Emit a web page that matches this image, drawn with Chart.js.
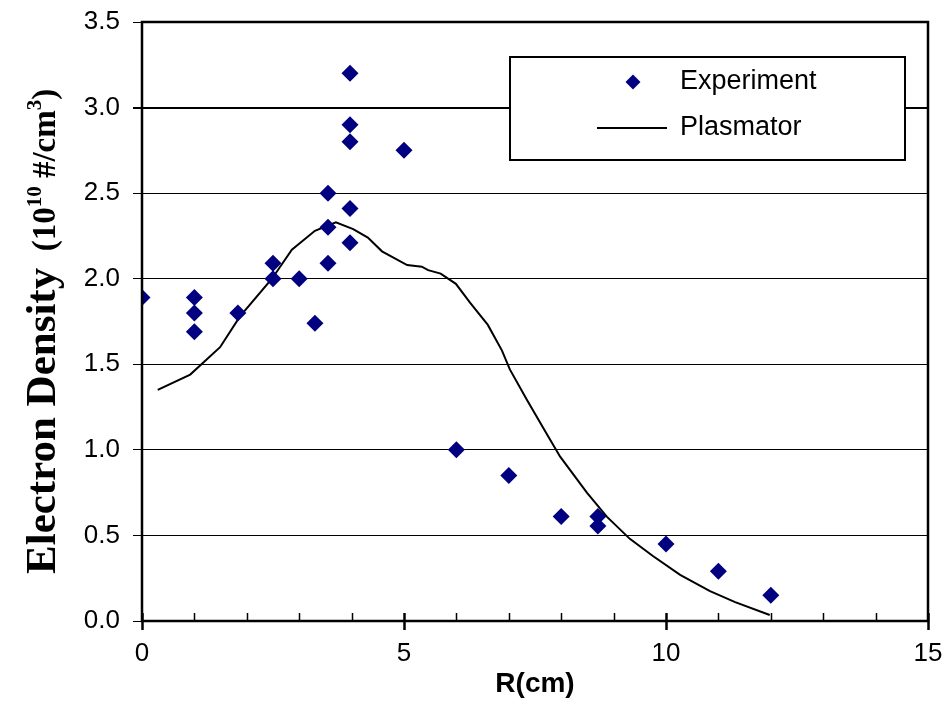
<!DOCTYPE html>
<html>
<head>
<meta charset="utf-8">
<script src="https://cdn.jsdelivr.net/npm/chart.js@4/dist/chart.umd.min.js"></script>
<style>
  html, body { margin: 0; padding: 0; background: #fff; }
  #wrap { width: 945px; height: 705px; }
</style>
</head>
<body>
<div id="wrap"><canvas id="densityChart"></canvas></div>
<script>
// Experiment points
const expR = [0, 1, 1, 1, 1.83, 2.5, 2.5, 3, 3.3, 3.55, 3.55, 3.55, 3.97, 3.97, 3.97, 3.97, 3.97, 5, 6, 7, 8, 8.7, 8.7, 10, 11, 12];
const expDensity = [1.89, 1.89, 1.8, 1.69, 1.8, 2.09, 2.0, 2.0, 1.74, 2.5, 2.3, 2.09, 3.2, 2.9, 2.8, 2.41, 2.21, 2.75, 1.0, 0.85, 0.61, 0.61, 0.555, 0.45, 0.29, 0.15];

// Plasmator curve
const simR = [0.3, 0.92, 1.49, 1.87, 2.48, 2.86, 3.3, 3.7, 4.03, 4.31, 4.58, 5.06, 5.34, 5.46, 5.7, 5.99, 6.26, 6.6, 6.87, 7.02, 7.35, 7.75, 7.98, 8.49, 8.87, 9.31, 9.75, 10.27, 10.84, 11.32, 11.98];
const simDensity = [1.35, 1.44, 1.6, 1.78, 2.0, 2.17, 2.28, 2.33, 2.29, 2.24, 2.16, 2.08, 2.07, 2.05, 2.03, 1.97, 1.86, 1.73, 1.58, 1.47, 1.29, 1.08, 0.96, 0.75, 0.61, 0.48, 0.38, 0.27, 0.175, 0.11, 0.035];

const xTickValues = [0, 5, 10, 15];
const xMinorTicks = [0, 1, 2, 3, 4, 5, 6, 7, 8, 9, 10, 11, 12, 13, 14, 15];
const yTickValues = [0, 0.5, 1, 1.5, 2, 2.5, 3, 3.5];

const seriesNames = ['Experiment', 'Plasmator'];
const navy = '#000080';

function toPoints(xs, ys) {
  return xs.map((v, i) => ({ x: v, y: ys[i] }));
}

const serif = '"Liberation Serif", "Times New Roman", serif';

// frame, x ticks, axis titles and the boxed legend
const decor = {
  id: 'decor',
  afterDatasetsDraw(chart) {
    const { ctx, chartArea: a, scales: { x } } = chart;
    ctx.save();
    ctx.strokeStyle = '#000';

    xMinorTicks.forEach(v => {
      const px = Math.round(x.getPixelForValue(v)) + 0.5;
      const major = xTickValues.includes(v);
      ctx.lineWidth = major ? 2.5 : 1.5;
      ctx.beginPath();
      ctx.moveTo(px, a.bottom - 8);
      ctx.lineTo(px, major ? a.bottom + 9 : a.bottom);
      ctx.stroke();
    });

    ctx.lineWidth = 2.5;
    ctx.strokeRect(a.left, a.top, a.right - a.left, a.bottom - a.top);

    // x title
    ctx.fillStyle = '#000';
    ctx.font = 'bold 28px "Liberation Sans", Arial, sans-serif';
    ctx.textAlign = 'center';
    ctx.textBaseline = 'middle';
    ctx.fillText('R(cm)', (a.left + a.right) / 2, 684);

    // y title, rotated, mixed sizes with superscripts
    const parts = [
      { t: 'Electron Density', f: 'bold 43px ' + serif, dy: 0 },
      { t: '  (10', f: 'bold 33px ' + serif, dy: 0 },
      { t: '10', f: 'bold 21px ' + serif, dy: -14 },
      { t: ' #/cm', f: 'bold 33px ' + serif, dy: 0 },
      { t: '3', f: 'bold 21px ' + serif, dy: -14 },
      { t: ')', f: 'bold 33px ' + serif, dy: 0 }
    ];
    ctx.translate(55, 574);
    ctx.rotate(-Math.PI / 2);
    ctx.textAlign = 'left';
    ctx.textBaseline = 'alphabetic';
    let cx = 0;
    parts.forEach(p => {
      ctx.font = p.f;
      ctx.fillText(p.t, cx, p.dy);
      cx += ctx.measureText(p.t).width;
    });
    ctx.setTransform(1, 0, 0, 1, 0, 0);

    // legend
    const box = { l: 510, t: 57, r: 905, b: 160 };
    ctx.fillStyle = '#fff';
    ctx.fillRect(box.l, box.t, box.r - box.l, box.b - box.t);
    ctx.lineWidth = 2;
    ctx.strokeRect(box.l, box.t, box.r - box.l, box.b - box.t);

    const dx = 633, dy1 = 82, dr = 7.5;
    ctx.fillStyle = navy;
    ctx.beginPath();
    ctx.moveTo(dx - dr, dy1);
    ctx.lineTo(dx, dy1 - dr);
    ctx.lineTo(dx + dr, dy1);
    ctx.lineTo(dx, dy1 + dr);
    ctx.closePath();
    ctx.fill();

    ctx.strokeStyle = '#000';
    ctx.lineWidth = 2;
    ctx.beginPath();
    ctx.moveTo(597, 128);
    ctx.lineTo(667, 128);
    ctx.stroke();

    ctx.fillStyle = '#000';
    ctx.font = '27px "Liberation Sans", Arial, sans-serif';
    ctx.textAlign = 'left';
    ctx.textBaseline = 'middle';
    ctx.fillText(seriesNames[0], 680, dy1);
    ctx.fillText(seriesNames[1], 680, 128);
    ctx.restore();
  }
};

new Chart(document.getElementById('densityChart'), {
  type: 'scatter',
  data: {
    datasets: [
      {
        label: seriesNames[0],
        data: toPoints(expR, expDensity),
        pointStyle: 'rectRot',
        pointRadius: 8.5,
        pointBackgroundColor: navy,
        pointBorderColor: navy,
        pointBorderWidth: 0,
        showLine: false
      },
      {
        label: seriesNames[1],
        data: toPoints(simR, simDensity),
        showLine: true,
        pointRadius: 0,
        borderColor: '#000',
        borderWidth: 2,
        tension: 0
      }
    ]
  },
  options: {
    responsive: true,
    maintainAspectRatio: false,
    animation: false,
    layout: { padding: { top: 22, right: 17, left: 0, bottom: 0 } },
    plugins: { legend: { display: false }, tooltip: { enabled: false } },
    scales: {
      x: {
        type: 'linear',
        min: 0,
        max: 15,
        afterBuildTicks: s => { s.ticks = xTickValues.map(v => ({ value: v })); },
        afterFit: s => { s.height = 84; s.paddingLeft = 0; s.paddingRight = 0; },
        grid: { display: false, drawTicks: false },
        border: { display: false },
        ticks: {
          color: '#000',
          padding: 17,
          maxRotation: 0,
          font: { family: '"Liberation Sans", Arial, sans-serif', size: 26 }
        }
      },
      y: {
        min: 0,
        max: 3.5,
        afterBuildTicks: s => { s.ticks = yTickValues.map(v => ({ value: v })); },
        afterFit: s => { s.width = 142; s.paddingTop = 0; s.paddingBottom = 0; },
        grid: {
          color: '#000',
          lineWidth: c => (c.tick && c.tick.value === 3 ? 2 : 1),
          tickLength: 9
        },
        border: { display: false },
        ticks: {
          color: '#000',
          padding: 13,
          callback: v => v.toFixed(1),
          font: { family: '"Liberation Sans", Arial, sans-serif', size: 26 }
        }
      }
    }
  },
  plugins: [decor]
});
</script>
</body>
</html>
